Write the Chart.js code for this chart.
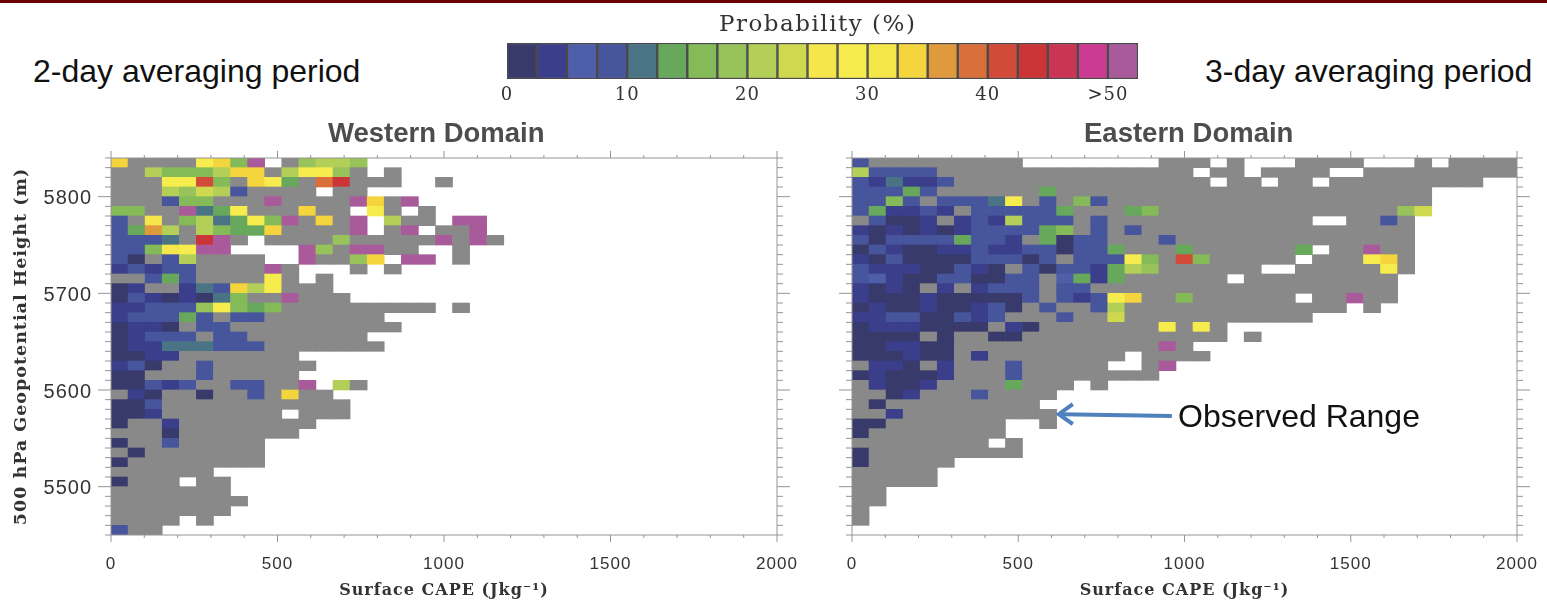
<!DOCTYPE html>
<html lang="en">
<head>
<meta charset="UTF-8">
<title>Probability by CAPE and 500 hPa height</title>
<script src="https://cdn.jsdelivr.net/npm/chart.js"></script>
<style>
  html, body { margin: 0; background: #fff; overflow: hidden; }
  body { width: 1547px; height: 602px; position: relative; }
  #topbar { position: absolute; left: 0; top: 0; width: 100%; height: 3px; background: #6b0000; }
  .box { position: absolute; }
  .note { position: absolute; font-family: "Liberation Sans", sans-serif; font-size: 32px; color: #111; white-space: nowrap; line-height: 34px; }
  .domain { position: absolute; font-family: "Liberation Sans", sans-serif; font-size: 27.5px; font-weight: bold; color: #4d4d4d; white-space: nowrap; line-height: 34px; }
  #scaleTitle { position: absolute; left: 719px; top: 6px; font-family: "DejaVu Serif", serif; font-size: 23px; letter-spacing: 1.5px; color: #333; white-space: nowrap; line-height: 34px; }
</style>
</head>
<body>
<div id="topbar"></div>
<div class="box" style="left:0;top:108px;width:800px;height:494px"><canvas id="west"></canvas></div>
<div class="box" style="left:829px;top:108px;width:718px;height:494px"><canvas id="east"></canvas></div>
<div class="box" style="left:480px;top:0;width:676px;height:110px"><canvas id="scale"></canvas></div>
<div id="scaleTitle">Probability (%)</div>
<div class="note" style="left:33px;top:54px">2-day averaging period</div>
<div class="note" style="left:1205px;top:54px">3-day averaging period</div>
<div class="note" style="left:1178px;top:399px">Observed Range</div>
<div class="domain" style="left:328px;top:116px">Western Domain</div>
<div class="domain" style="left:1084px;top:116px">Eastern Domain</div>
<script>
// colour bins, 2.5 % wide, letters a..u in the rows below. # = no events (gray), . = no data
const binColors = ['#393a6c','#3a3e8b','#4f5ea8','#47559c','#4a7486','#67a85c','#84bb58','#98c35a','#b3cf57',
  '#cfd94f','#f5e64b','#f7ec4d','#f6e748','#f4d53e','#e09a3e','#d96f3a','#d24a38','#cb3538','#cb3555','#cc3b92','#a95a9b'];
const grayCell = '#898989';
const binLetters = 'abcdefghijklmnopqrstu';

const xMajorTicks = [0, 500, 1000, 1500, 2000];
const yMajorTicks = [5500, 5600, 5700, 5800];
const scaleTicks = [0, 10, 20, 30, 40, 50];
const scaleTickLabels = ['0', '10', '20', '30', '40', '>50'];

// rows run from 5830-5840 m at the top down to 5450-5460 m
const westRows = [
  'n####lngu.#hiih',
  '##iggginn#illh#.#',
  '###llqg#nlf#pr###..#',
  '###ihjid####.##',
  '###dgg###u####un#u',
  'gg##uefl###n##.l#.#',
  'd#k#gieflgu#n#u.i##.uu',
  'dfoi#igffn####u.#u.##u',
  'ddde#ru#.####h#####u#u#',
  'ddgkluu....uh#uu##..#',
  'da#di####..u##hn.uu.#',
  'bdbdd####u#...#.#',
  '##dfd####l#.#',
  'ab##bednil###',
  'adbabaeg##u###',
  'bbdddhlgfg#########.#',
  'bdddfd#dd#######',
  'abba#dd##########',
  'abddd#dd#######',
  'abbeeeddd#######',
  'aabb#######',
  'bda##d######',
  'aa###d#####',
  'aadbd##dd##u.i#',
  '#ba##a##d#n##',
  'aad###########',
  'aab#######.###',
  'a##b########',
  '###a#######',
  'a##d#####',
  '#a#######',
  'a########',
  '######',
  'a###.##',
  '#######',
  '########',
  '#######',
  '####.#',
  'd##'
];
const eastRows = [
  'd#########........###.#...####...#.####',
  'idddd###############.##.####..#########',
  'dbebbd###############.##.##.#########',
  'dddfd######f######################',
  'ddgd#dddel#d#gd###################',
  'dfbbdb#dddddf###fg##############hj',
  '#daab#bdbiddd#d############..##d#',
  'babababddddfg#d#d################',
  'daddddfddb#fadd###d##############',
  'adbaabbdbbddaddf###f######f.##u##',
  'badaaaadddad#dddlg#qg#####.###ln#',
  'dbbbaadba#daddbfih######..#####l#',
  'dcbaaddaadd#cfbf######.#########',
  'baba#b#bddd#dd##################',
  'baaabaaaaad#dbdln##g######.##u##',
  'abaabaabda#d##di#############.#',
  'bbddaadbd###d##j###########',
  'abbbaaaa#ba#######l#l#',
  'aaaa#a##aa############.#',
  'aabbaa############u#',
  'aaabaa#b########.####',
  '#bba#b###d#####..#u',
  'abaaab###d########',
  '#baab####f###.#',
  '##ab###d####',
  '#a#########',
  '##b#########',
  'aa#######..#',
  'a########',
  '########.#',
  'a#########',
  'a#####',
  '#####',
  '#####',
  '##',
  '##',
  '#',
  '#'
];

const capeBins = 39, capeMax = 2000, heightTop = 5840, heightBottom = 5450, heightStep = 10;

function cellsFrom(rows) {
  const data = [], colors = [];
  const w = capeMax / capeBins;
  rows.forEach((row, r) => {
    [...row].forEach((ch, c) => {
      if (ch === '.') return;
      data.push({ x: [c * w, (c + 1) * w], y: heightTop - heightStep * r - heightStep / 2 });
      colors.push(ch === '#' ? grayCell : binColors[binLetters.indexOf(ch)]);
    });
  });
  return { data, colors };
}

// the figure's labels are set wide, canvas text has to be told
function spacedText(px) {
  return { id: 'spacedText', beforeDraw(chart) { chart.ctx.letterSpacing = px; } };
}

const frameTicks = {
  id: 'frameTicks',
  afterDraw(chart) {
    const { ctx, chartArea: a, scales: { x, y } } = chart;
    ctx.save();
    ctx.strokeStyle = '#949494';
    ctx.lineWidth = 1;
    ctx.beginPath();
    ctx.rect(a.left, a.top, a.right - a.left, a.bottom - a.top);
    for (let v = 0; v <= capeMax; v += 100) {
      const px = x.getPixelForValue(v), len = xMajorTicks.includes(v) ? 7 : 3;
      ctx.moveTo(px, a.top); ctx.lineTo(px, a.top - len);
      ctx.moveTo(px, a.bottom); ctx.lineTo(px, a.bottom + len);
    }
    for (let v = heightBottom; v <= heightTop; v += heightStep) {
      const py = y.getPixelForValue(v), len = yMajorTicks.includes(v) ? 13 : 6;
      ctx.moveTo(a.left, py); ctx.lineTo(a.left - len, py);
      ctx.moveTo(a.right, py); ctx.lineTo(a.right + len, py);
    }
    ctx.stroke();
    ctx.restore();
  }
};

const observedArrow = {
  id: 'observedArrow',
  afterDraw(chart) {
    const { ctx, scales: { x, y } } = chart;
    const x0 = x.getPixelForValue(962), x1 = x.getPixelForValue(622);
    const y0 = y.getPixelForValue(5573), y1 = y.getPixelForValue(5575);
    ctx.save();
    ctx.strokeStyle = '#4f81bd';
    ctx.lineWidth = 4;
    ctx.lineJoin = 'miter';
    ctx.beginPath();
    ctx.moveTo(x0, y0); ctx.lineTo(x1 + 2, y1);
    ctx.stroke();
    ctx.beginPath();
    ctx.moveTo(x1 + 14, y1 - 10); ctx.lineTo(x1, y1); ctx.lineTo(x1 + 14, y1 + 10);
    ctx.stroke();
    ctx.restore();
  }
};

function noPad(s) { s.paddingLeft = s.paddingRight = s.paddingTop = s.paddingBottom = 0; }

function domainChart(id, rows, opts) {
  const cells = cellsFrom(rows);
  return new Chart(document.getElementById(id), {
    type: 'bar',
    data: { datasets: [{ data: cells.data, backgroundColor: cells.colors, borderWidth: 0, barPercentage: 1, categoryPercentage: 1 }] },
    options: {
      indexAxis: 'y',
      responsive: true,
      maintainAspectRatio: false,
      animation: false,
      events: [],
      layout: { padding: { top: 50, right: opts.right } },
      plugins: {
        legend: { display: false },
        tooltip: { enabled: false }
      },
      scales: {
        x: {
          type: 'linear', min: 0, max: capeMax,
          grid: { display: false }, border: { display: false },
          afterBuildTicks: s => { s.ticks = xMajorTicks.map(v => ({ value: v })); },
          afterFit: s => { noPad(s); s.height = 67; },
          ticks: { color: '#333', maxRotation: 0, autoSkip: false, padding: 11, font: { family: '"Liberation Sans"', size: 17 }, callback: v => String(v) },
          title: { display: true, text: 'Surface CAPE (Jkg⁻¹)', color: '#333', font: { family: '"DejaVu Serif"', size: 16, weight: 'bold' }, padding: { top: 0, bottom: 2 } }
        },
        y: {
          type: 'linear', min: heightBottom, max: heightTop, offset: false,
          grid: { display: false, offset: false }, border: { display: false },
          afterBuildTicks: s => { s.ticks = yMajorTicks.map(v => ({ value: v })); },
          afterFit: s => { noPad(s); s.width = opts.axisWidth; },
          ticks: { display: opts.labels, color: '#333', autoSkip: false, padding: 11, labelOffset: 2, font: { family: '"Liberation Sans"', size: 20 }, callback: v => String(v) },
          title: { display: opts.labels, text: '500 hPa Geopotential Height (m)', color: '#333', font: { family: '"DejaVu Serif"', size: 17.5, weight: 'bold' }, padding: { top: 11, bottom: 0 } }
        }
      }
    },
    plugins: opts.plugins
  });
}

domainChart('west', westRows, { right: 23, axisWidth: 111, labels: true, plugins: [spacedText('1px'), frameTicks] });
domainChart('east', eastRows, { right: 30, axisWidth: 23, labels: false, plugins: [spacedText('1px'), frameTicks, observedArrow] });

// colour scale
const binWidth = 2.5;
new Chart(document.getElementById('scale'), {
  type: 'bar',
  data: {
    labels: [''],
    datasets: [{
      data: binColors.map((c, i) => ({ x: [i * binWidth, (i + 1) * binWidth], y: '' })),
      backgroundColor: binColors,
      borderColor: '#4a4a4a',
      borderWidth: 1.5,
      borderSkipped: false,
      barPercentage: 1,
      categoryPercentage: 1
    }]
  },
  options: {
    indexAxis: 'y',
    responsive: true,
    maintainAspectRatio: false,
    animation: false,
    events: [],
    layout: { padding: { top: 43, left: 27, right: 18 } },
    plugins: {
      legend: { display: false },
      tooltip: { enabled: false }
    },
    scales: {
      x: {
        type: 'linear', min: 0, max: binColors.length * binWidth,
        grid: { display: false }, border: { display: false },
        afterBuildTicks: s => { s.ticks = scaleTicks.map(v => ({ value: v })); },
        afterFit: s => { noPad(s); s.height = 31; },
        ticks: { color: '#333', maxRotation: 0, autoSkip: false, padding: -2, font: { family: '"DejaVu Serif"', size: 18 },
          callback: v => scaleTickLabels[scaleTicks.indexOf(v)] }
      },
      y: { type: 'category', display: false, offset: true, grid: { display: false, offset: true } }
    }
  },
  plugins: [spacedText('1px')]
});
</script>
</body>
</html>
